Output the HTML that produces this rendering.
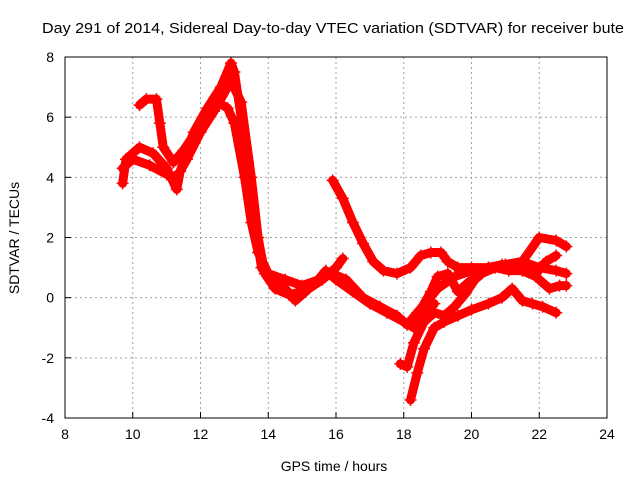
<!DOCTYPE html>
<html><head><meta charset="utf-8"><style>
body{margin:0;background:#fff;}
svg{display:block;font-family:"Liberation Sans",sans-serif;}
</style></head><body>
<svg id="chart" width="640" height="480">
<rect width="640" height="480" fill="#fff"/>
<text x="333" y="33" font-size="15" text-anchor="middle" textLength="582" lengthAdjust="spacingAndGlyphs">Day 291 of 2014, Sidereal Day-to-day VTEC variation (SDTVAR) for receiver bute</text>
<text x="334" y="471" font-size="14" text-anchor="middle">GPS time / hours</text>
<text x="19" y="238" font-size="14" text-anchor="middle" transform="rotate(-90 19 238)">SDTVAR / TECUs</text>
<g id="grid"></g>
<g id="series"></g>
<rect x="65" y="57" width="542" height="361" fill="none" stroke="#000" stroke-width="1"/>
</svg>
<script>
const xTicks=[8,10,12,14,16,18,20,22,24];
const yTicks=[-4,-2,0,2,4,6,8];
const s1=[[9.7,3.8],[9.8,4.6],[10.2,5.0],[10.6,4.8],[11.0,4.3],[11.3,3.6],[11.4,4.2],[11.8,5.5],[12.2,6.3],[12.6,7.0],[12.9,7.8],[13.0,7.5],[13.2,6.0],[13.4,4.5],[13.6,2.5],[13.8,1.0],[14.1,0.5],[14.5,0.3],[14.8,-0.1],[15.2,0.3],[15.6,0.6],[16.0,1.0],[16.2,1.3]];
const s2=[[10.2,6.4],[10.4,6.6],[10.7,6.6],[10.8,5.8],[10.9,5.0],[11.2,4.5],[11.5,4.9],[11.8,5.4],[12.2,6.1],[12.5,6.5],[12.8,6.3],[13.0,5.8],[13.3,4.0],[13.5,2.5],[13.7,1.5],[14.0,0.8],[14.5,0.6],[15.0,0.4],[15.5,0.6],[15.9,0.8],[16.3,0.6],[16.8,0.0],[17.3,-0.3],[17.8,-0.6],[18.1,-0.9],[18.4,-0.5],[18.7,-0.1],[19.0,0.3],[19.5,0.7],[20.0,0.9],[20.5,1.0],[21.0,1.1],[21.5,1.2],[22.0,1.0],[22.5,0.9],[22.8,0.8]];
const s3=[[9.7,4.3],[10.0,4.6],[10.5,4.4],[11.0,4.1],[11.3,4.0],[11.6,4.6],[12.0,5.5],[12.4,6.2],[12.9,7.2],[13.2,6.5],[13.5,4.0],[13.7,2.0],[13.9,0.8],[14.2,0.3],[14.6,0.1],[15.0,0.2],[15.4,0.5],[15.7,0.9],[16.0,0.6],[16.5,0.2],[17.0,-0.2],[17.5,-0.5],[18.0,-0.8],[18.3,-1.0],[18.6,-0.6],[18.9,-0.2]];
const s4=[[15.9,3.9],[16.2,3.3],[16.5,2.5],[16.8,1.8],[17.1,1.2],[17.4,0.9],[17.8,0.8],[18.2,1.0],[18.5,1.4],[18.8,1.5],[19.1,1.5],[19.3,1.2],[19.6,1.0],[20.0,1.0],[20.5,1.0],[21.0,1.1],[21.5,1.2],[22.0,2.0],[22.5,1.9],[22.8,1.7]];
const s5=[[17.9,-2.2],[18.1,-2.3],[18.3,-1.5],[18.6,-0.8],[18.9,-0.5],[19.2,-0.6],[19.5,-0.3],[19.8,0.1],[20.1,0.6],[20.5,1.0],[20.9,1.1],[21.2,1.0],[21.5,0.9],[21.9,0.8],[22.2,1.2],[22.5,1.4]];
const s6=[[18.2,-3.4],[18.4,-2.5],[18.6,-1.7],[18.9,-1.0],[19.2,-0.8],[19.6,-0.6],[20.0,-0.4],[20.5,-0.2],[20.9,0.0],[21.2,0.3],[21.5,-0.1],[21.8,-0.2],[22.1,-0.3],[22.5,-0.5]];
const s7=[[18.5,-0.4],[18.8,0.2],[19.0,0.7],[19.3,0.8],[19.6,0.2],[19.9,0.5],[20.3,0.8],[20.7,1.0],[21.1,0.9],[21.5,0.9],[21.9,0.7],[22.0,0.6],[22.3,0.3],[22.6,0.4],[22.8,0.4]];
const seriesList=[s1,s2,s3,s4,s5,s6,s7];
const NS="http://www.w3.org/2000/svg";
const X0=65,X1=607,Y0=418,Y1=57;
function xs(h){return X0+(h-8)/(24-8)*(X1-X0);}
function ys(v){return Y0-(v+4)/12*(Y0-Y1);}
const grid=document.getElementById('grid');
function mk(t,a,p){const e=document.createElementNS(NS,t);for(const k in a)e.setAttribute(k,a[k]);p.appendChild(e);return e;}
xTicks.forEach(t=>{const x=xs(t);
 if(t>8&&t<24){const g=mk('line',{x1:x,x2:x,y1:Y1,y2:Y0,stroke:'#a0a0a0','stroke-dasharray':'2,3'},grid);
 
 }
 const tk=mk('line',{x1:x,x2:x,y1:Y0,y2:Y0-6,stroke:'#000'},grid);
 
 
 const tx=mk('text',{x:x,y:Y0+21,'font-size':14,'text-anchor':'middle'},grid);tx.textContent=t;
 
 
});
yTicks.forEach(t=>{const y=ys(t);
 if(t>-4&&t<8){const g=mk('line',{x1:X0,x2:X1,y1:y,y2:y,stroke:'#a0a0a0','stroke-dasharray':'2,3'},grid);
 
 }
 const tk=mk('line',{x1:X0,x2:X0+6,y1:y,y2:y,stroke:'#000'},grid);
 
 
 const tx=mk('text',{x:X0-11,y:y+5,'font-size':14,'text-anchor':'end'},grid);tx.textContent=t;
 
 
});
const sg=document.getElementById('series');
seriesList.forEach((s,i)=>{
 const pl=mk('polyline',{points:s.map(p=>xs(p[0])+','+ys(p[1])).join(' '),fill:'none',stroke:'#ff0000','stroke-width':9,'stroke-linejoin':'round','stroke-linecap':'round'},sg);
 
 
 s.forEach(p=>{const x=xs(p[0]),y=ys(p[1]);
  const m=mk('path',{d:`M${x-6},${y}H${x+6}M${x},${y-6}V${y+6}`,stroke:'#ff0000','stroke-width':1.5},sg);
  
  
 });
});
</script>
</body></html>
